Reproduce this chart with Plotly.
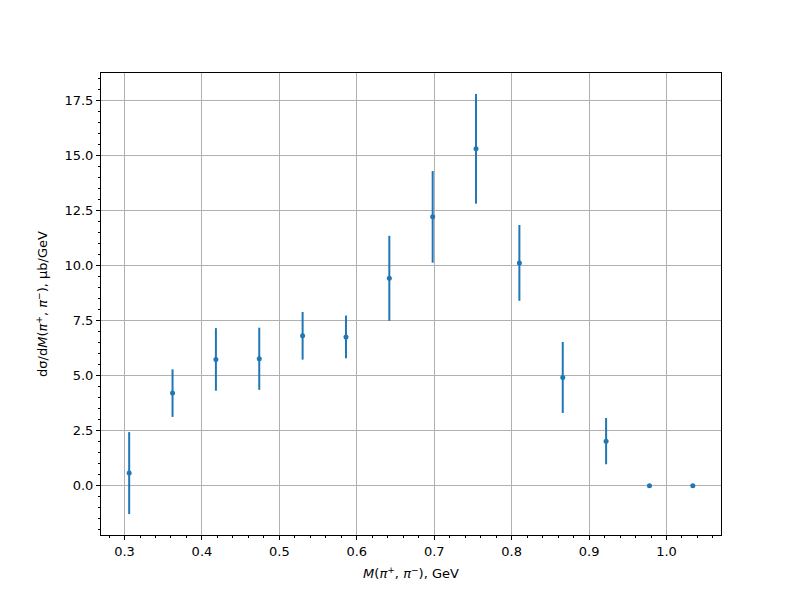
import plotly.graph_objects as go

mass = [0.306, 0.362, 0.418, 0.474, 0.530, 0.586, 0.642, 0.698, 0.754, 0.810, 0.866, 0.922, 0.978, 1.034]
xsec = [0.57, 4.20, 5.73, 5.76, 6.80, 6.75, 9.41, 12.20, 15.29, 10.11, 4.91, 2.02, 0.0, 0.0]
err = [1.86, 1.08, 1.42, 1.41, 1.08, 0.97, 1.93, 2.08, 2.49, 1.72, 1.61, 1.05, 0.0, 0.0]

x_ticks = [0.3, 0.4, 0.5, 0.6, 0.7, 0.8, 0.9, 1.0]
y_ticks = [0.0, 2.5, 5.0, 7.5, 10.0, 12.5, 15.0, 17.5]

color = "#1f77b4"

fig = go.Figure()
fig.add_trace(go.Scatter(
    x=mass, y=xsec, mode="markers",
    marker=dict(color=color, size=5),
    error_y=dict(type="data", array=err, visible=True, color=color, thickness=2, width=0),
    showlegend=False,
))

font = dict(family="DejaVu Sans", size=13, color="black")

fig.update_layout(
    width=800, height=600,
    margin=dict(l=93, r=87, t=65, b=73),
    paper_bgcolor="white", plot_bgcolor="white",
    font=font,
    xaxis=dict(
        range=[0.2696, 1.0704],
        tickvals=x_ticks, ticktext=[f"{v:.1f}" for v in x_ticks],
        ticks="outside", ticklen=4, tickwidth=1, tickcolor="black",
        showline=True, linecolor="black", linewidth=1, mirror=True,
        showgrid=True, gridcolor="#b0b0b0", gridwidth=0.8,
        zeroline=False,
        minor=dict(ticks="outside", dtick=0.02, tick0=0.0, ticklen=2, tickcolor="black", showgrid=False),
        title=dict(text="<i>M</i>(<i>π</i><sup>+</sup>, <i>π</i><sup>−</sup>), GeV", font=font, standoff=11),
    ),
    yaxis=dict(
        range=[-2.24, 18.73],
        tickvals=y_ticks, ticktext=[f"{v:.1f}" for v in y_ticks],
        ticks="outside", ticklen=4, tickwidth=1, tickcolor="black",
        showline=True, linecolor="black", linewidth=1, mirror=True,
        showgrid=True, gridcolor="#b0b0b0", gridwidth=0.8,
        zeroline=False,
        minor=dict(ticks="outside", dtick=0.5, tick0=0.0, ticklen=2, tickcolor="black", showgrid=False),
        title=dict(text="dσ/d<i>M</i>(<i>π</i><sup>+</sup>, <i>π</i><sup>−</sup>), μb/GeV", font=font, standoff=13),
    ),
)

fig.write_html("out.html")
